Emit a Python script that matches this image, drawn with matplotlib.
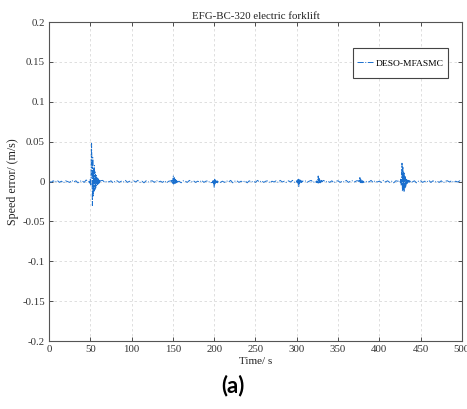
import numpy as np
import matplotlib
matplotlib.use("Agg")
import matplotlib.pyplot as plt
from matplotlib.patches import Rectangle

title = "EFG-BC-320 electric forklift"
series_name = "DESO-MFASMC"
x_label = "Time/ s"
y_label = "Speed error/ (m/s)"
panel_label = "(a)"

x_ticks = [0, 50, 100, 150, 200, 250, 300, 350, 400, 450, 500]
y_ticks = [-0.2, -0.15, -0.1, -0.05, 0, 0.05, 0.1, 0.15, 0.2]
y_tick_labels = ["-0.2", "-0.15", "-0.1", "-0.05", "0", "0.05", "0.1", "0.15", "0.2"]

# background residual, sampled every 2.5 s from 0 to 500 s
base_start, base_step = 0.0, 2.5
base_error = [
    0.0005, -0.001, 0.001, -0.0005, 0.0015, -0.001, 0.0005, -0.0015, 0.001, 0.0,
    -0.001, 0.0015, -0.0005, 0.001, -0.0015, 0.0005, 0.001, -0.001, 0.002, -0.0005,
    0.001, -0.001, 0.0005, -0.0015, 0.001, -0.0005, 0.0015, -0.001, 0.0005, -0.0005,
    0.001, -0.0015, 0.0005, 0.001, -0.001, 0.0005, -0.0005, 0.0015, -0.001, 0.0005,
    -0.001, 0.001, -0.0005, 0.0015, -0.001, 0.0005, -0.0015, 0.001, -0.0005, 0.0005,
    0.001, -0.001, 0.0015, -0.0005, 0.0005, -0.001, 0.001, -0.0015, 0.0005, 0.001,
    -0.0005, 0.001, -0.001, 0.0005, -0.0015, 0.001, 0.0005, -0.001, 0.0015, -0.0005,
    0.001, -0.001, 0.0005, -0.0005, 0.0015, -0.001, 0.0005, 0.001, -0.0015, 0.0005,
    0.001, -0.0005, 0.0015, -0.001, 0.0005, -0.001, 0.001, -0.0005, 0.0015, -0.0015,
    0.0005, 0.001, -0.001, 0.0005, -0.0005, 0.001, -0.0015, 0.001, -0.0005, 0.0005,
    -0.001, 0.0015, -0.0005, 0.001, -0.001, 0.0005, 0.001, -0.0015, 0.0005, -0.0005,
    0.001, -0.001, 0.0015, -0.0005, 0.0005, -0.001, 0.001, -0.0005, 0.0015, -0.001,
    0.0005, -0.0015, 0.001, -0.0005, 0.001, -0.001, 0.0005, 0.0015, -0.001, 0.0005,
    -0.0005, 0.001, -0.001, 0.0015, -0.0005, 0.0005, -0.001, 0.001, -0.0015, 0.0005,
    0.001, -0.001, 0.0005, -0.0005, 0.0015, -0.001, 0.0005, 0.001, -0.0005, 0.001,
    -0.0015, 0.0005, 0.001, -0.001, 0.0005, -0.0005, 0.0015, -0.001, 0.001, -0.0005,
    0.0005, -0.001, 0.0015, -0.0005, 0.001, -0.001, 0.0005, -0.0015, 0.001, 0.0005,
    -0.001, 0.001, -0.0005, 0.0015, -0.001, 0.0005, -0.0005, 0.001, -0.0015, 0.0005,
    0.001, -0.001, 0.0005, -0.0005, 0.0015, -0.001, 0.001, -0.0005, 0.0005, -0.001,
    0.001, -0.0015, 0.0005, 0.001, -0.0005, 0.001, -0.001, 0.0005, -0.0005, 0.001,
    0.0005,
]

# transients, sampled every 0.5 s
ev1_start = 49.0
ev1_error = [0.001, -0.002, 0.003, -0.004, 0.012, 0.048, 0.02, -0.03, 0.03, -0.018,
             0.016, -0.012, 0.02, -0.01, 0.012, -0.008, 0.009, -0.005, 0.006, -0.004,
             0.004, -0.003, 0.003, -0.002, 0.002, -0.001, 0.001]
ev2_start = 148.0
ev2_error = [0.001, -0.001, 0.0015, -0.002, 0.003, 0.007, -0.004, 0.005, -0.003, 0.003,
             -0.002, 0.002, -0.0015, 0.001, -0.001, 0.0015, -0.0005]
ev3_start = 198.0
ev3_error = [-0.001, 0.001, -0.002, 0.002, -0.007, 0.003, -0.004, 0.002, -0.002, 0.0015,
             -0.001, 0.001, -0.0015, 0.001, -0.0005]
ev4_start = 300.0
ev4_error = [0.001, -0.001, 0.002, -0.003, 0.003, -0.006, 0.003, -0.002, 0.002, -0.0015,
             0.0015, -0.001, 0.001, -0.0005, 0.0005]
ev5_start = 324.0
ev5_error = [-0.001, 0.001, -0.0015, 0.002, 0.007, -0.003, 0.004, -0.002, 0.002, -0.0015,
             0.001, -0.001, 0.0015, -0.0005, 0.0005]
ev6_start = 375.0
ev6_error = [0.001, -0.001, 0.0015, 0.005, -0.002, 0.003, -0.0015, 0.002, -0.001, 0.001,
             -0.0015, 0.0005, -0.0005]
ev7_start = 425.0
ev7_error = [0.001, -0.002, 0.003, -0.005, 0.006, 0.023, -0.012, 0.018, -0.01, 0.012,
             -0.013, 0.01, -0.008, 0.006, -0.006, 0.004, -0.003, 0.003, -0.002, 0.002,
             -0.0015, 0.0015, -0.001, 0.001, -0.001, 0.0005, -0.0005]
ev_step = 0.5

events = [(ev1_start, ev1_error), (ev2_start, ev2_error), (ev3_start, ev3_error),
          (ev4_start, ev4_error), (ev5_start, ev5_error), (ev6_start, ev6_error),
          (ev7_start, ev7_error)]

bt = base_start + base_step * np.arange(len(base_error))
be = np.array(base_error)
keep = np.ones(len(bt), bool)
ts, es = [], []
for s, e in events:
    t = s + ev_step * np.arange(len(e))
    keep &= ~((bt >= t[0] - 1.0) & (bt <= t[-1] + 1.0))
    ts.append(t); es.append(np.array(e))
ts.append(bt[keep]); es.append(be[keep])
t_all = np.concatenate(ts); e_all = np.concatenate(es)
order = np.argsort(t_all)
t_all, e_all = t_all[order], e_all[order]

serif = ["Liberation Serif", "DejaVu Serif"]
plt.rcParams["font.family"] = serif

fig = plt.figure(figsize=(4.67, 4.09), dpi=100)
ax = fig.add_axes([0.105, 0.166, 0.884, 0.780])
ax.plot(t_all, e_all, linestyle="-.", color="#1a6fce", linewidth=0.7, label=series_name)

ax.set_xlim(0, 500)
ax.set_ylim(-0.2, 0.2)
ax.set_xticks(x_ticks)
ax.set_xticklabels([str(v) for v in x_ticks])
ax.set_yticks(y_ticks)
ax.set_yticklabels(y_tick_labels)
ax.tick_params(direction="in", length=3, width=0.6, labelsize=7.8, colors="#333333",
               top=True, right=True, pad=3)
for sp in ax.spines.values():
    sp.set_color("#555555")
    sp.set_linewidth(0.8)
ax.grid(True, linestyle=(0, (3, 3)), color="#d9d9d9", linewidth=0.6)

ax.set_title(title, fontsize=7.8, pad=2, color="#222222")
ax.set_xlabel(x_label, fontsize=8, labelpad=2, color="#222222")
ax.set_ylabel(y_label, fontsize=8.6, labelpad=2, color="#222222")

# legend frame (MATLAB-style box with generous padding)
box_x0, box_y0, box_w, box_h = 0.736, 0.824, 0.230, 0.094
ax.add_patch(Rectangle((box_x0, box_y0), box_w, box_h, transform=ax.transAxes,
                       facecolor="white", edgecolor="#444444", linewidth=0.8, zorder=4))
leg = ax.legend(loc="center", bbox_to_anchor=(box_x0 + box_w / 2, box_y0 + box_h / 2),
                frameon=False, fontsize=6.8, handlelength=1.7, borderpad=0,
                borderaxespad=0, handletextpad=0.2)
leg.set_zorder(5)

fig.text(0.499, 0.058, panel_label, ha="center", va="center", fontsize=16,
         fontweight="bold", family=["Lato", "DejaVu Sans"])

fig.savefig("out.png", dpi=100)
